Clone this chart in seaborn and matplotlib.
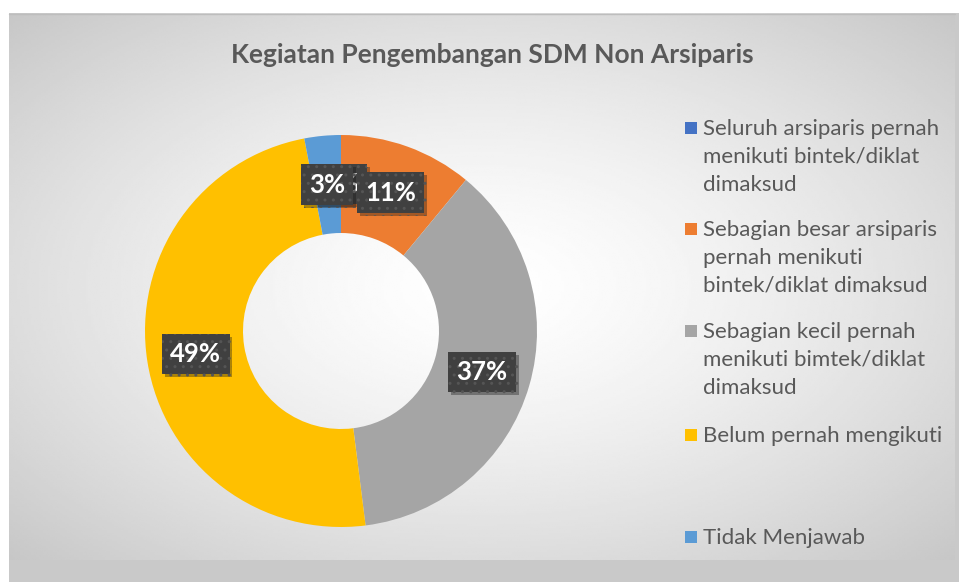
"""
plot.py  –  Donut chart: Kegiatan Pengembangan SDM Non Arsiparis
"""
import numpy as np
import matplotlib
matplotlib.use("Agg")
import matplotlib.pyplot as plt
import matplotlib.patheffects as pe
from matplotlib.patches import Rectangle
import seaborn as sns

# ── data ─────────────────────────────────────────────────────────────────────
categories = [
    "Seluruh arsiparis pernah\nmenikuti bintek/diklat\ndimaksud",
    "Sebagian besar arsiparis\npernah menikuti\nbintek/diklat dimaksud",
    "Sebagian kecil pernah\nmenikuti bimtek/diklat\ndimaksud",
    "Belum pernah mengikuti",
    "Tidak Menjawab",
]
values = [0, 11, 37, 49, 3]
colors = ["#4472C4", "#ED7D31", "#A5A5A5", "#FFC000", "#5B9BD5"]
title = "Kegiatan Pengembangan SDM Non Arsiparis"

# legend rows (centre of first line, px from top of figure)
legend_y = [128, 229, 331, 435, 537]

sns.set_theme(style="white")
plt.rcParams["font.family"] = ["Lato", "DejaVu Sans"]

W, H = 959, 582
fig = plt.figure(figsize=(W / 100, H / 100), dpi=100)
fig.patch.set_facecolor("#c9c9c9")

# ── background: white margin + radial gradient chart area ───────────────────
bg = fig.add_axes([0, 0, 1, 1], zorder=-5)
bg.set_xlim(0, W)
bg.set_ylim(H, 0)
bg.axis("off")
bg.add_patch(Rectangle((0, 0), W, 13, color="white", lw=0))
bg.add_patch(Rectangle((0, 0), 9, H, color="white", lw=0))
x0, x1, y0, y1 = 9, 955, 13, 560
xx, yy = np.meshgrid(np.linspace(-1, 1, 400), np.linspace(-1, 1, 250))
d = np.clip(np.sqrt(xx ** 2 + yy ** 2) / np.sqrt(2), 0, 1)
grad = 1 - 0.22 * d ** 1.4
bg.imshow(grad, cmap="gray", vmin=0, vmax=1, extent=(x0, x1, y1, y0),
          aspect="auto", interpolation="bilinear")
bg.plot([x0, x1], [y0 + 0.5, y0 + 0.5], color="#bdbdbd", lw=1)

# ── donut ────────────────────────────────────────────────────────────────────
cx, cy, r = 341, 331, 196
ax = fig.add_axes([(cx - r) / W, (H - cy - r) / H, 2 * r / W, 2 * r / H])

wedges, _, autotexts = ax.pie(
    values, colors=sns.color_palette(colors), startangle=90, counterclock=False,
    radius=1, autopct="%1.0f%%", pctdistance=0.75,
    wedgeprops=dict(width=0.5, edgecolor="none"),
    textprops=dict(color="white", fontsize=18.5, fontweight="bold"),
)
ax.set_xlim(-1, 1)
ax.set_ylim(-1, 1)
ax.axis("off")
for t in autotexts:
    t.set_bbox(dict(boxstyle="square,pad=0.32", facecolor="#404040",
                    edgecolor="#555555", hatch="..", linewidth=0))
    t.get_bbox_patch().set_path_effects(
        [pe.SimplePatchShadow(offset=(2, -2), alpha=0.35), pe.Normal()])

# ── title ────────────────────────────────────────────────────────────────────
fig.text(492 / W, 1 - 55 / H, title, ha="center", va="center",
         fontsize=19, fontweight="bold", color="#595959")

# ── legend ───────────────────────────────────────────────────────────────────
for label, col, ly in zip(categories, colors, legend_y):
    bg.add_patch(Rectangle((685, ly - 6), 12, 12, color=col, lw=0))
    fig.text(703 / W, 1 - (ly - 9) / H, label, ha="left", va="top",
             fontsize=16, color="#595959", linespacing=1.5)

plt.savefig("out.png", dpi=100)
plt.close()
